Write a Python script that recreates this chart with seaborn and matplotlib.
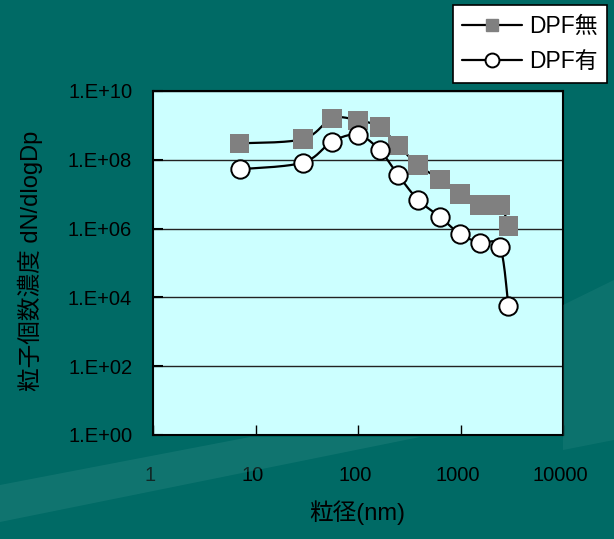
import numpy as np
import pandas as pd
import matplotlib.pyplot as plt
import matplotlib.transforms as mtransforms
import seaborn as sns
from matplotlib.lines import Line2D
from matplotlib.patches import Polygon

# Data
diameter_nm = [7, 29, 56, 100, 163, 246, 387, 630, 990, 1550, 2420, 2930]
dpf_none = [3.0e8, 4.0e8, 1.6e9, 1.4e9, 9.0e8, 2.6e8, 7.0e7, 2.7e7, 1.0e7, 4.8e6, 4.8e6, 1.2e6]
dpf_with = [5.3e7, 8.3e7, 3.4e8, 5.3e8, 1.9e8, 3.6e7, 6.8e6, 2.2e6, 6.9e5, 3.9e5, 3.0e5, 5.6e3]
series_names = ["DPF無", "DPF有"]

x_ticks = [1, 10, 100, 1000, 10000]
x_tick_labels = ["1", "10", "100", "1000", "10000"]
y_ticks = [1e0, 1e2, 1e4, 1e6, 1e8, 1e10]
y_tick_labels = ["1.E+00", "1.E+02", "1.E+04", "1.E+06", "1.E+08", "1.E+10"]


def smooth(x, y, n=24):
    # Excel-style smoothed line (Bezier through points) in log-log space
    pts = np.column_stack([np.log10(x), np.log10(y)])
    out = []
    last = len(pts) - 1
    t = np.linspace(0, 1, n)[:, None]
    for i in range(last):
        p0, p1 = pts[max(i - 1, 0)], pts[i]
        p2, p3 = pts[i + 1], pts[min(i + 2, last)]
        c1 = p1 + (p2 - p0) / 6
        c2 = p2 - (p3 - p1) / 6
        seg = (1 - t) ** 3 * p1 + 3 * (1 - t) ** 2 * t * c1 + 3 * (1 - t) * t ** 2 * c2 + t ** 3 * p2
        out.append(seg if i == 0 else seg[1:])
    seg = np.vstack(out)
    return 10 ** seg[:, 0], 10 ** seg[:, 1]


sns.set_theme(style="ticks")
plt.rcParams['font.family'] = ['Liberation Sans', 'Noto Sans CJK JP', 'DejaVu Sans']
plt.rcParams['text.color'] = 'black'

fig = plt.figure(figsize=(6.14, 5.39), dpi=100)
fig.patch.set_facecolor('#006a65')

# light diagonal bands of the slide background
W, H = 614, 539
def px(points):
    return [(x / W, 1 - y / H) for x, y in points]

fig.patches.append(Polygon(px([(0, 485), (250, 437), (420, 437), (0, 522)]),
                           closed=True, transform=fig.transFigure,
                           facecolor='#3a908b', alpha=0.28, edgecolor='none', zorder=0))
fig.patches.append(Polygon(px([(563, 305), (614, 280), (614, 440), (563, 450)]),
                           closed=True, transform=fig.transFigure,
                           facecolor='#3a908b', alpha=0.22, edgecolor='none', zorder=0))

ax = fig.add_axes([153 / W, 1 - 435 / H, 410 / W, 344 / H])
ax.set_facecolor('#ccffff')

# smoothed lines
for vals, z in [(dpf_none, 2), (dpf_with, 4)]:
    sx, sy = smooth(diameter_nm, vals)
    line_df = pd.DataFrame({"x": sx, "y": sy})
    sns.lineplot(data=line_df, x="x", y="y", sort=False, color='black',
                 linewidth=1.6, ax=ax, zorder=z)

pts = pd.DataFrame({"x": diameter_nm * 2,
                    "y": dpf_none + dpf_with,
                    "series": [series_names[0]] * len(dpf_none) + [series_names[1]] * len(dpf_with)})

sns.scatterplot(data=pts[pts.series == series_names[0]], x="x", y="y", marker='s',
                s=200, color='#808080', edgecolor='none', linewidth=0, ax=ax, zorder=3, legend=False)
sns.scatterplot(data=pts[pts.series == series_names[1]], x="x", y="y", marker='o',
                s=175, color='white', edgecolor='black', linewidth=1.4, ax=ax, zorder=5, legend=False)

ax.set_xscale('log')
ax.set_yscale('log')
ax.set_xlim(1, 10000)
ax.set_ylim(1, 1e10)
ax.set_xticks(x_ticks)
ax.set_xticklabels(x_tick_labels)
ax.set_yticks(y_ticks)
ax.set_yticklabels(y_tick_labels)
ax.minorticks_off()
ax.tick_params(axis='x', direction='in', length=7, width=1, pad=22, labelsize=14.5, colors='black')
ax.tick_params(axis='y', direction='in', length=7, width=1.5, pad=15, labelsize=14.5, colors='black')
shift = mtransforms.ScaledTranslation(-3 / 100, 0, fig.dpi_scale_trans)
for lab in ax.get_xticklabels():
    lab.set_transform(lab.get_transform() + shift)
ax.yaxis.grid(True, color='#222222', linewidth=1)
ax.xaxis.grid(False)
ax.set_axisbelow(True)
ax.set_xlabel("")
ax.set_ylabel("")
for s in ax.spines.values():
    s.set_color('black')
    s.set_linewidth(1.5)

fig.text(30 / W, 1 - 261 / H, "粒子個数濃度 dN/dlogDp", rotation=90,
         ha='center', va='center', fontsize=17, color='black')
fig.text(357 / W, 1 - 513 / H, "粒径(nm)", ha='center', va='center', fontsize=17, color='black')

handles = [
    Line2D([], [], color='black', linewidth=1.6, marker='s', markersize=9,
           markerfacecolor='#808080', markeredgecolor='#808080'),
    Line2D([], [], color='black', linewidth=1.6, marker='o', markersize=10,
           markerfacecolor='white', markeredgecolor='black', markeredgewidth=1.4),
]
leg = fig.legend(handles, series_names, loc='upper right',
                 bbox_to_anchor=(607 / W, 1 - 5 / H), fontsize=16.5,
                 frameon=True, fancybox=False, framealpha=1, edgecolor='black',
                 handlelength=2.6, handletextpad=0.3, borderpad=0.42,
                 labelspacing=0.55, borderaxespad=0)
leg.get_frame().set_linewidth(1.2)
for t in leg.get_texts():
    t.set_color('black')

plt.savefig("out.png", dpi=100, facecolor=fig.get_facecolor())
